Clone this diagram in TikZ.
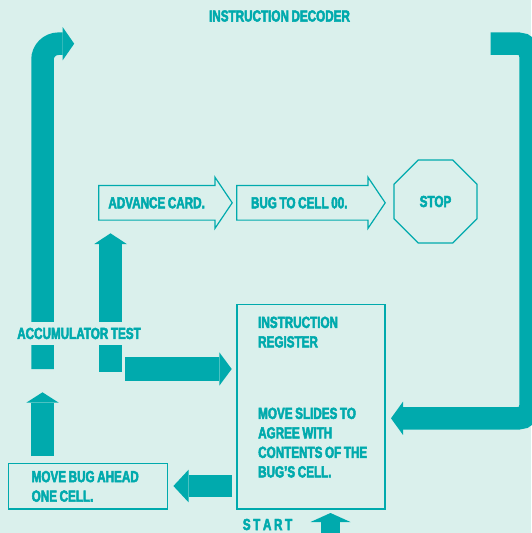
\documentclass[tikz,border=0pt]{standalone}
\usepackage{fontspec}
\setmainfont{Liberation Sans}[FakeStretch=0.73,FakeBold=3,WordSpace=0.8]
\usetikzlibrary{arrows.meta,shapes.geometric,calc}
\definecolor{bg}{HTML}{DAF0EC}
\definecolor{tl}{HTML}{00AAAD}
\newcommand\arrowoutline[1]{%
  \draw[outline] ($(#1.north west)+(0,8.4)$) -- ($(#1.north east)+(-17.3,8.4)$)
    -- ($(#1.north east)+(-17.3,0)$) -- (#1.east) -- ($(#1.south east)+(-17.3,0)$)
    -- ($(#1.south east)+(-17.3,-8.4)$) -- ($(#1.south west)+(0,-8.4)$) -- cycle;}
\begin{document}
\begin{tikzpicture}[x=1pt,y=-1pt,
  lbl/.style={font=\fontsize{16}{19.5}\selectfont\bfseries, text=tl, inner sep=0pt},
  pipe/.style={line width=22.5pt, draw=tl},
  outline/.style={draw=tl, line width=1.2pt},
]
\fill[bg] (0,0) rectangle (531,533);
\useasboundingbox (0,0) rectangle (531,533);

% nodes
\node[lbl] (title) at (279.5,16) {INSTRUCTION DECODER};
\node[lbl, rectangle, minimum width=133.1pt, minimum height=51pt, inner xsep=9.5pt]
  (adv) at (165.45,202.8) {\makebox[114.1pt][l]{ADVANCE CARD.}};
\node[lbl, rectangle, minimum width=148pt, minimum height=51pt, inner xsep=14pt]
  (bug) at (311,202.8) {\makebox[120pt][l]{BUG TO CELL 00.}};
\arrowoutline{adv}
\arrowoutline{bug}
\node[lbl, outline, regular polygon, regular polygon sides=8, minimum size=90pt] (stop) at (435.5,201.5) {STOP};
\node[outline, rectangle, minimum width=148pt, minimum height=204.3pt, inner sep=0pt] (reg) at (311,406.85) {};
\node[lbl, anchor=north west, align=left] (regtxt) at (258,316.5)
  {INSTRUCTION\\REGISTER\\[52pt]MOVE SLIDES TO\\AGREE WITH\\CONTENTS OF THE\\BUG’S CELL.};
\node[outline, rectangle, minimum width=159.1pt, minimum height=45.7pt, inner sep=0pt]
  (mb) at (88.05,486.15) {};
\node[lbl, anchor=west, align=left] (mbtxt) at (31.5,486.35) {MOVE BUG AHEAD\\ONE CELL.};
\node[lbl] (start) at (267.5,524.5) {S\kern2.6pt T\kern2.6pt A\kern2.6pt R\kern2.6pt T};

% connector end points
\coordinate (lpA) at (42.5,369);
\coordinate (lpB) at (74.2,43.7);
\coordinate (mA) at (110.5,371.7);
\coordinate (mB) at (110.5,233.3);
\coordinate (rpA) at (490.7,43.7);
\coordinate (rpC) at (530.5,43.7);
\coordinate (rpB) at (391,418.3);
\coordinate (arA) at (125,369);
\coordinate (arB) at (231.7,369);
\coordinate (rmA) at (232,486);
\coordinate (rmB) at (173.4,486);
\coordinate (muA) at (42.5,456);
\coordinate (muB) at (42.5,392.3);
\coordinate (stA) at (330.5,545);
\coordinate (stB) at (330.5,513);

% fat connectors
\draw[pipe, rounded corners=16pt, -{Triangle[width=33.4pt,length=11.6pt,line width=0pt]}] (lpA) |- (lpB);
\draw[pipe, -{Triangle[width=32.5pt,length=10.7pt,line width=0pt]}] (mA) -- (mB);
\draw[pipe, rounded corners=12pt, -{Triangle[width=33.3pt,length=12pt,line width=0pt]}] (rpA) -- (rpC) |- (rpB);
\draw[pipe, line width=23.5pt, -{Triangle[width=33.4pt,length=12.4pt,line width=0pt]}] (arA) -- (arB);
\draw[pipe, -{Triangle[width=32.7pt,length=15.2pt,line width=0pt]}] (rmA) -- (rmB);
\draw[pipe, -{Triangle[width=32.5pt,length=10.4pt,line width=0pt]}] (muA) -- (muB);
\draw[pipe, line width=19pt, -{Triangle[width=40pt,length=9pt,line width=0pt]}] (stA) -- (stB);

\node[lbl, fill=bg, minimum height=23pt, inner xsep=1pt, text depth=0pt] (acc) at (79,333.4) {ACCUMULATOR TEST};
\end{tikzpicture}
\end{document}
